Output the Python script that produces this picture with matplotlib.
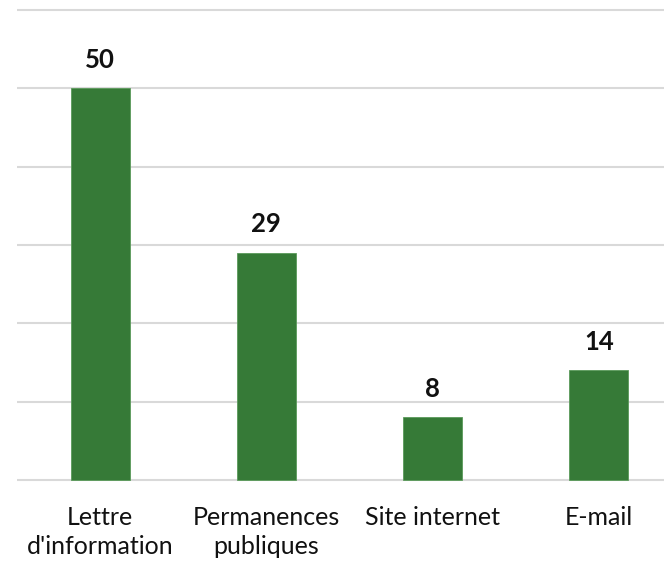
import matplotlib
matplotlib.use("Agg")
import matplotlib.pyplot as plt

categories = ["Lettre\nd'information", "Permanences\npubliques", "Site internet", "E-mail"]
values = [50, 29, 8, 14]
yticks = [0, 10, 20, 30, 40, 50, 60]

plt.rcParams['font.family'] = ['Lato', 'DejaVu Sans']

W, H = 664, 562
fig = plt.figure(figsize=(W / 100, H / 100), dpi=100)

# axes placed in pixels: left 17, baseline 480, top gridline 10
px_unit = 470 / 60
ylo, yhi = -0.3, 60.3
bottom_px = 480 + 0.3 * px_unit
top_px = 10 - 0.3 * px_unit
ax = fig.add_axes([17 / W, (H - bottom_px) / H, 1 - 17 / W, (bottom_px - top_px) / H])

x = list(range(len(categories)))
bars = ax.bar(x, values, width=0.355, color="#367a37", edgecolor="#5a9a5a", linewidth=0.6, zorder=3)

for xi, v in zip(x, values):
    ax.text(xi, v + 2.6, str(v), ha="center", va="baseline", fontsize=18.5, fontweight="bold", color="#111111")

ax.set_xlim(-0.5, (664 - 100) / 166.3)
ax.set_ylim(ylo, yhi)
ax.set_yticks(yticks)
ax.set_yticklabels([])
ax.tick_params(axis="y", length=0)
ax.tick_params(axis="x", length=0, pad=17, labelsize=18)
ax.set_xticks(x)
ax.set_xticklabels(categories, color="#111111", linespacing=1.3)
ax.grid(axis="y", color="#d9d9d9", linewidth=1.5, zorder=0)
for s in ax.spines.values():
    s.set_visible(False)

fig.savefig("out.png", dpi=100)
